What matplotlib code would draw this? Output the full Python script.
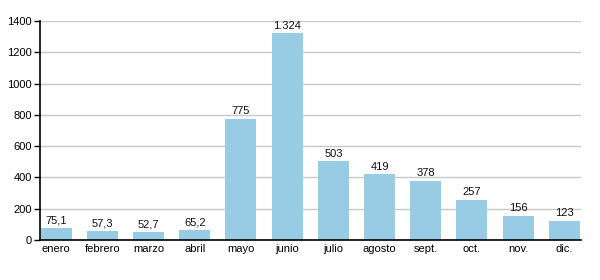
import matplotlib.pyplot as plt

meses = ["enero", "febrero", "marzo", "abril", "mayo", "junio",
         "julio", "agosto", "sept.", "oct.", "nov.", "dic."]
valores = [75.1, 57.3, 52.7, 65.2, 775, 1324, 503, 419, 378, 257, 156, 123]
etiquetas = ["75,1", "57,3", "52,7", "65,2", "775", "1.324",
             "503", "419", "378", "257", "156", "123"]

plt.rcParams['font.family'] = ['Liberation Sans', 'DejaVu Sans']

fig = plt.figure(figsize=(6, 2.8), dpi=100)
ax = fig.add_axes([0.0667, 0.143, 0.9016, 0.782])

x = range(len(meses))
bars = ax.bar(x, valores, width=0.67, color='#98cbe4', zorder=2)
for b, lab in zip(bars, etiquetas):
    ax.text(b.get_x() + b.get_width() / 2, b.get_height() + 15, lab,
            ha='center', va='bottom', fontsize=8, color='#111111')

ax.set_xlim(-0.35, 11.36)
ax.set_ylim(0, 1400)
ax.set_yticks(range(0, 1401, 200))
ax.set_xticks(list(x))
ax.set_xticklabels(meses)
ax.tick_params(axis='x', length=0, labelsize=8, pad=3)
ax.tick_params(axis='y', length=4, width=1, labelsize=8, pad=2)
ax.yaxis.grid(True, color='#c8c8c8', linewidth=1, zorder=0)
ax.set_axisbelow(True)
for s in ['top', 'right']:
    ax.spines[s].set_visible(False)
ax.spines['left'].set_linewidth(1.2)
ax.spines['bottom'].set_linewidth(1.2)

fig.savefig('out.png', dpi=100)
